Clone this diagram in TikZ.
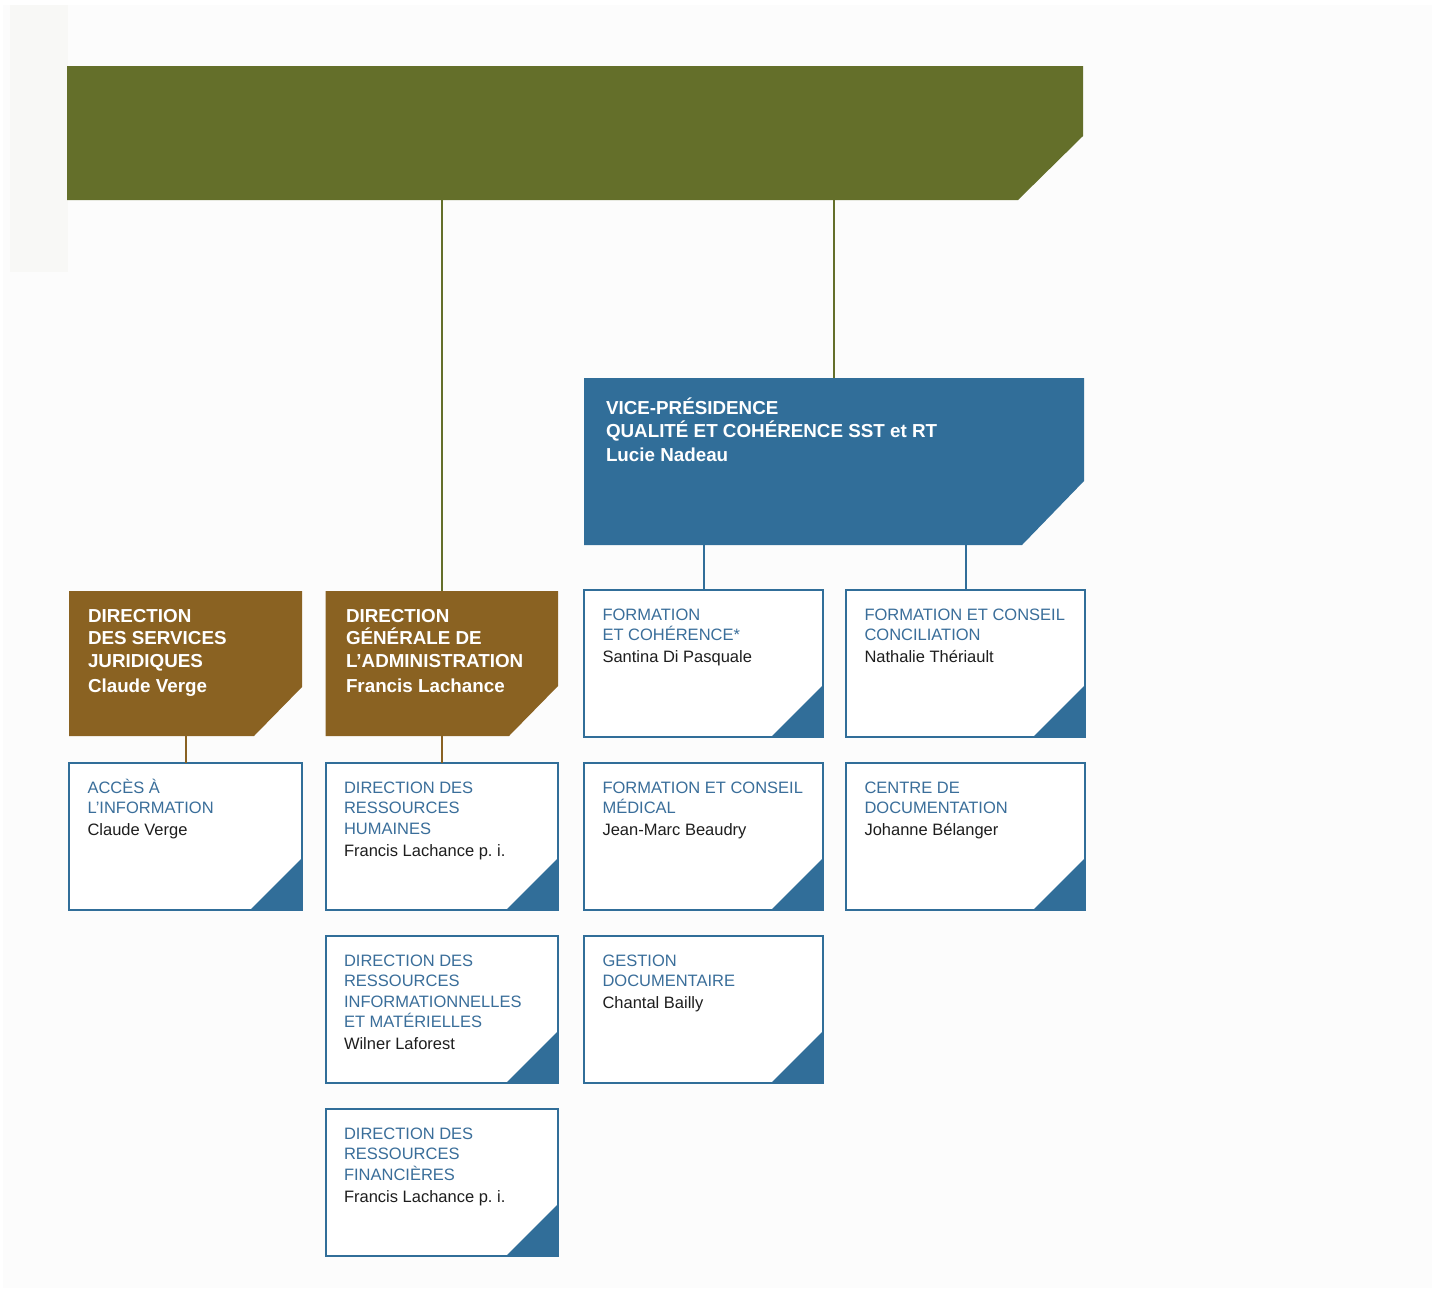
\documentclass[tikz,border=0pt]{standalone}
\usepackage{fontspec}
\setmainfont{Liberation Sans}
\usetikzlibrary{calc}
\frenchspacing
\definecolor{bannergreen}{HTML}{646F2A}
\definecolor{dirbrown}{HTML}{8A6222}
\definecolor{vpblue}{HTML}{316E99}
\definecolor{titleblue}{HTML}{3A6E9A}
\definecolor{namegray}{HTML}{1E1E1E}
\definecolor{pagebg}{HTML}{FCFCFC}
\definecolor{stripbg}{HTML}{F8F8F6}
\tikzset{
  holder/.style={shape=rectangle, minimum width=#1, anchor=north west, inner sep=0pt, outer sep=0pt},
  unitframe/.style={draw=vpblue, line width=2pt, fill=white, shape=rectangle, minimum width=#1, minimum height=147pt, anchor=north west, inner sep=0pt, outer sep=0pt},
  utxt/.style={anchor=north west, inner sep=0pt, outer sep=0pt, align=left, text=titleblue, font=\fontsize{16.5}{20.6}\selectfont},
  hdtxt/.style={anchor=north west, inner sep=0pt, outer sep=0pt, align=left, text=white, font=\bfseries\fontsize{18.8}{22.7}\selectfont},
  greenline/.style={draw=bannergreen, line width=1.8pt},
  blueline/.style={draw=vpblue, line width=2pt},
  brownline/.style={draw=dirbrown, line width=2pt},
}
\newcommand\unitcard[6]{%
  \node[unitframe=#4] (#1) at (#2,#3) {};
  \fill[vpblue] (#1.south east) -- ++(0,-52) -- ++(-52,52) -- cycle;
  \node[utxt] (#1t) at ($(#1.north west)+(18.5,14)$) {\rule{0pt}{16pt}#5\\[1.5pt]\color{namegray}#6};
}
\begin{document}
\begin{tikzpicture}[x=1pt,y=-1pt]
\useasboundingbox (0,0) rectangle (1435,1291);
\fill[white] (0,0) rectangle (1435,1291);
\fill[pagebg] (3,5) rectangle (1432,1288);
\fill[stripbg] (10,5) rectangle (68,272);

% header shapes
\node[holder=1016pt, minimum height=134pt] (banner) at (67,66) {};
\fill[bannergreen] (banner.north west) -- (banner.north east) -- ($(banner.north east)+(0,70)$) -- ($(banner.south east)+(-65,0)$) -- (banner.south west) -- cycle;

\node[holder=500pt, minimum height=167pt] (vp) at (584,378) {};
\fill[vpblue] (vp.north west) -- (vp.north east) -- ($(vp.north east)+(0,103)$) -- ($(vp.south east)+(-62,0)$) -- (vp.south west) -- cycle;
\node[hdtxt, font=\bfseries\fontsize{18.8}{23.5}\selectfont] (vpt) at ($(vp.north west)+(22,19)$) {\rule{0pt}{17pt}VICE-PRÉSIDENCE\\QUALITÉ ET COHÉRENCE SST et RT\\Lucie Nadeau};

\node[holder=233pt, minimum height=145pt] (dsj) at (69,591) {};
\fill[dirbrown] (dsj.north west) -- (dsj.north east) -- ($(dsj.north east)+(0,96)$) -- ($(dsj.south east)+(-48,0)$) -- (dsj.south west) -- cycle;
\node[hdtxt] (dsjt) at ($(dsj.north west)+(19,14)$) {\rule{0pt}{17pt}DIRECTION\\DES SERVICES\\JURIDIQUES\\[2.5pt]Claude Verge};

\node[holder=232.5pt, minimum height=145pt] (dga) at (325.5,591) {};
\fill[dirbrown] (dga.north west) -- (dga.north east) -- ($(dga.north east)+(0,95)$) -- ($(dga.south east)+(-49,0)$) -- (dga.south west) -- cycle;
\node[hdtxt] (dgat) at ($(dga.north west)+(20.5,14)$) {\rule{0pt}{17pt}DIRECTION\\GÉNÉRALE DE\\L’ADMINISTRATION\\[2.5pt]Francis Lachance};

% connectors
\draw[greenline] (dga.north |- banner.south) -- (dga.north);
\draw[greenline] (vp.north |- banner.south) -- (vp.north);

% unit cards
\unitcard{fc}{584}{590}{239pt}{FORMATION\\ET COHÉRENCE*}{Santina Di Pasquale}
\unitcard{fcc}{846}{590}{239pt}{FORMATION ET CONSEIL\\CONCILIATION}{Nathalie Thériault}
\unitcard{acc}{69}{763}{233pt}{ACCÈS À\\L’INFORMATION}{Claude Verge}
\unitcard{drh}{325.5}{763}{232.5pt}{DIRECTION DES\\RESSOURCES\\HUMAINES}{Francis Lachance p. i.}
\unitcard{fcm}{584}{763}{239pt}{FORMATION ET CONSEIL\\MÉDICAL}{Jean-Marc Beaudry}
\unitcard{cdoc}{846}{763}{239pt}{CENTRE DE\\DOCUMENTATION}{Johanne Bélanger}
\unitcard{drim}{325.5}{936}{232.5pt}{DIRECTION DES\\RESSOURCES\\INFORMATIONNELLES\\ET MATÉRIELLES}{Wilner Laforest}
\unitcard{gdoc}{584}{936}{239pt}{GESTION\\DOCUMENTAIRE}{Chantal Bailly}
\unitcard{drf}{325.5}{1109}{232.5pt}{DIRECTION DES\\RESSOURCES\\FINANCIÈRES}{Francis Lachance p. i.}

\draw[blueline] (fc.north |- vp.south) -- (fc.north);
\draw[blueline] (fcc.north |- vp.south) -- (fcc.north);
\draw[brownline] (dsj.south) -- (acc.north);
\draw[brownline] (dga.south) -- (drh.north);
\end{tikzpicture}
\end{document}
